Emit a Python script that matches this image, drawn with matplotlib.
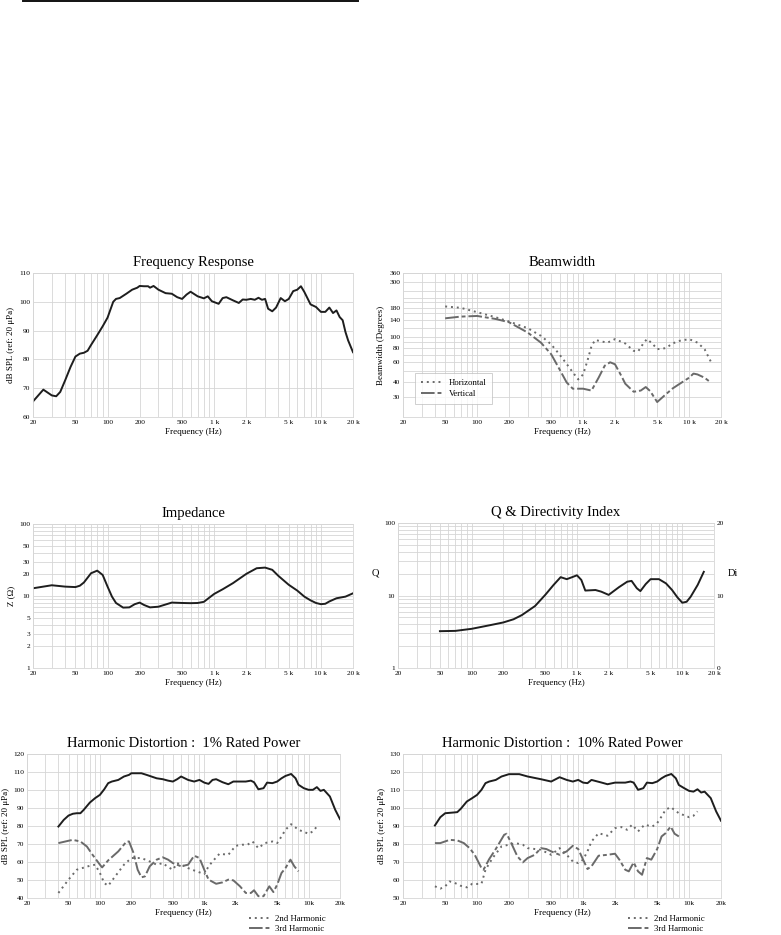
import numpy as np
import matplotlib
matplotlib.use("Agg")
import matplotlib.pyplot as plt
from matplotlib.lines import Line2D

plt.rcParams['font.family'] = ['Liberation Serif', 'DejaVu Serif']

W, H = 781, 935

# ---- data ----
fr_f = [20, 25, 30, 33, 36, 40, 45, 50, 55, 60, 65, 70, 80, 90, 100, 113, 120, 130, 150, 170, 190, 200,
        220, 240, 250, 270, 300, 350, 400, 450, 500, 550, 600, 700, 800, 870, 950, 1100, 1200, 1300,
        1500, 1700, 1850, 2000, 2200, 2400, 2600, 2800, 3000, 3200, 3500, 3800, 4200, 4600, 5000,
        5500, 6000, 6500, 7000, 8000, 9000, 10000, 11000, 12000, 13000, 14000, 15000, 16000, 17000,
        18000, 20000]
fr_db = [65.4, 69.5, 67.5, 67.2, 68.7, 72.7, 77.4, 81, 82, 82.3, 83, 85, 88.4, 91.5, 94.5, 100, 101,
         101.3, 102.8, 104.2, 104.9, 105.5, 105.4, 105.4, 104.9, 105.5, 104.2, 103, 102.8, 101.6,
         101, 102.5, 103.5, 101.9, 101.2, 101.9, 100.2, 99.3, 101.3, 101.6, 100.5, 99.6, 100.8,
         100.7, 101, 100.7, 101.4, 100.7, 101, 97.6, 96.7, 98, 101.3, 100.2, 101, 103.7, 104.2,
         105.4, 103.4, 99.1, 98.2, 96.5, 96.5, 98, 96.1, 97, 94.7, 93.6, 89.5, 86.6, 82.5]

bw_f = [50, 70, 100, 150, 200, 300, 400, 500, 600, 700, 800, 900, 1000, 1100, 1200, 1300, 1500, 1700,
        2000, 2500, 3000, 3300, 3700, 4000, 4500, 5000, 6000, 7000, 8000, 10000, 12000, 14000, 16000]
bw_h = [184, 179, 164, 148, 136, 119, 102, 86, 70, 58, 49, 42.5, 47, 62, 83, 94, 91, 89, 95.5, 87.5,
        75.5, 74.5, 87.5, 95.5, 87.5, 78, 79.6, 87.5, 92, 95.5, 89, 78, 61]
bwv_f = [50, 70, 100, 150, 200, 300, 400, 500, 600, 700, 800, 1000, 1200, 1400, 1600, 1800, 2000,
         2300, 2500, 3000, 3500, 3900, 4300, 5000, 6000, 7000, 8000, 10000, 11000, 12000, 14000, 16000]
bw_v = [145, 150, 152, 143, 134, 109, 89, 70.5, 52, 40, 35.3, 35.3, 34, 44, 56, 60, 57.6, 45.5, 39,
        33.2, 34, 36.5, 33.6, 27, 31.4, 35.5, 38.5, 44, 47.8, 47, 44, 40]

z_f = [20, 30, 40, 50, 55, 60, 70, 80, 90, 100, 110, 120, 140, 160, 180, 200, 220, 250, 300, 400,
       500, 600, 700, 800, 900, 1000, 1200, 1500, 2000, 2500, 3000, 3500, 4000, 5000, 6000, 7000,
       8000, 9000, 10000, 11000, 12000, 14000, 17000, 20000]
z_ohm = [12.8, 14.1, 13.5, 13.3, 13.9, 15.4, 20.7, 22.5, 19.6, 13.5, 9.8, 8, 6.9, 6.95, 7.7, 8.1,
         7.5, 6.95, 7.1, 8.1, 8.0, 7.95, 8.0, 8.3, 9.5, 10.7, 12.4, 15.1, 20.3, 24.3, 24.8, 23.1, 19,
         14.3, 11.9, 9.8, 8.7, 8, 7.7, 7.8, 8.4, 9.3, 9.8, 10.9]

q_f = [50, 70, 100, 150, 200, 250, 300, 400, 500, 600, 700, 800, 900, 1000, 1100, 1200, 1500, 1700,
       2000, 2500, 3000, 3300, 3700, 4000, 4500, 5000, 6000, 7000, 8000, 9000, 10000, 11000, 12000,
       14000, 16000]
q_val = [3.22, 3.25, 3.47, 3.9, 4.25, 4.7, 5.37, 7.16, 10.2, 14, 17.9, 16.8, 17.9, 19, 16.4, 11.7,
         11.9, 11.3, 10.2, 13, 15.5, 15.9, 12.6, 11.5, 14.4, 16.8, 16.8, 14.7, 11.9, 9.4, 7.95, 8.2,
         9.6, 14, 21.2]

hd1_f = [40, 45, 50, 55, 60, 65, 70, 80, 90, 100, 110, 120, 130, 150, 170, 190, 200, 250, 280, 350,
         400, 450, 500, 550, 600, 700, 800, 900, 1000, 1100, 1200, 1300, 1500, 1700, 1900, 2200, 2500,
         2800, 3000, 3300, 3700, 4000, 4500, 5000, 5500, 6000, 6800, 7500, 8000, 9000, 10000, 11000,
         12000, 13000, 14000, 16000, 18000, 20000]
hd1_fund = [79.7, 83.4, 85.8, 86.8, 87.1, 87.1, 89, 93, 95.5, 97.3, 100.4, 103.8, 104.7, 105.6, 107.5,
            108.4, 109.3, 109.3, 108.4, 106.5, 106, 105.2, 104.7, 106, 107.5, 105.6, 104.7, 105.6,
            104.1, 103.4, 105.6, 106, 104.3, 103.2, 104.7, 104.7, 104.7, 105.2, 104.3, 100.4, 101,
            104.1, 103.8, 104.7, 106.5, 107.8, 108.9, 106.5, 102.9, 101, 100.1, 100.1, 101.6, 99.5,
            100.1, 96.4, 89, 83.8]
hd1_2f = [40, 50, 60, 80, 90, 100, 110, 120, 140, 170, 200, 250, 300, 350, 400, 450, 500, 550, 600,
          700, 800, 1000, 1100, 1200, 1400, 1700, 2000, 2300, 2600, 2900, 3300, 3800, 4500, 5000,
          5500, 6000, 6800, 8000, 10000, 11000, 12000]
hd1_2nd = [42.8, 50.2, 55.7, 57.9, 58.5, 53.9, 48.3, 46.8, 52, 58.5, 62.2, 62.2, 60.3, 58.5, 59.4,
           57.2, 55.7, 59.4, 58.5, 56.6, 55.3, 53.3, 57.6, 60.3, 64.6, 64, 69, 69.6, 69.6, 71.4, 67.7,
           70.5, 71.4, 70.5, 74.2, 77.9, 81, 77.9, 75.7, 77, 79.7]
hd1_3f = [40, 50, 55, 65, 75, 85, 100, 105, 120, 150, 180, 190, 210, 230, 250, 270, 300, 350, 400,
          450, 500, 600, 700, 800, 900, 1000, 1100, 1300, 1500, 1700, 1900, 2200, 2500, 2800, 3000,
          3300, 3700, 4200, 4600, 5000, 5500, 6000, 6700, 7300, 8000]
hd1_3rd = [70.5, 71.8, 72.3, 71.4, 68.6, 64, 58.5, 57, 60.9, 65.9, 71.4, 71.4, 65, 55.7, 51.5, 52,
           57.6, 61.3, 62.6, 61.3, 59.4, 57.6, 58.5, 63.5, 62.2, 55.7, 50.2, 47.9, 48.7, 50.2, 49.8,
           46.5, 42.8, 42.8, 44.3, 41, 41, 46.5, 43.3, 47.4, 53.9, 56.6, 61.3, 57.6, 54.8]

hd10_f = [40, 45, 50, 60, 65, 70, 80, 90, 100, 110, 120, 130, 150, 170, 200, 250, 300, 400, 500, 600,
          700, 800, 900, 1000, 1100, 1200, 1500, 1700, 2000, 2500, 2800, 3000, 3300, 3700, 4000, 4500,
          5000, 5500, 6000, 6800, 7500, 8000, 9000, 10000, 11000, 12000, 13000, 14000, 16000, 18000,
          20000]
hd10_fund = [90.3, 94.9, 97.1, 97.5, 97.7, 99.5, 103.6, 105.5, 107.3, 110.1, 113.8, 114.7, 115.6,
             117.5, 118.8, 118.8, 117.5, 116, 114.7, 117.1, 115.6, 114.7, 115.6, 114.1, 113.8, 115.6,
             114.1, 113.2, 114.1, 114.1, 114.7, 114.1, 110.1, 111, 114.1, 113.8, 114.7, 116.5, 117.8,
             118.9, 116.5, 112.8, 111, 109.5, 109.1, 110.4, 108.6, 109.1, 105.5, 98.1, 92.9]
hd10_2f = [40, 45, 50, 55, 60, 70, 80, 90, 100, 110, 120, 140, 170, 200, 230, 270, 300, 400, 450, 500,
           600, 700, 800, 900, 1000, 1100, 1200, 1400, 1700, 2000, 2300, 2600, 2900, 3300, 3800, 4500,
           5000, 5500, 6000, 6700, 8000, 10000, 11000, 12000]
hd10_2nd = [56.5, 55.2, 56.5, 59.2, 58.7, 56.8, 55.9, 57.9, 57.8, 57.9, 65.7, 72.2, 78.7, 79.6, 80.5,
            79.6, 77.7, 76.8, 75.3, 74, 77.7, 74, 70.3, 69.4, 71.3, 75.9, 81.4, 86, 84.6, 88.8, 89.4,
            87.9, 90.7, 87, 90.7, 89.7, 91.6, 95.3, 99, 100.5, 97.1, 94.9, 95.7, 98.1]
hd10_3f = [40, 45, 55, 65, 75, 85, 95, 110, 115, 130, 150, 180, 190, 210, 240, 270, 300, 350, 400,
           450, 500, 600, 700, 800, 900, 1000, 1100, 1200, 1400, 1700, 2000, 2200, 2500, 2700, 3000,
           3300, 3600, 4000, 4400, 5000, 5500, 6000, 6700, 7300, 8000]
hd10_3rd = [80.5, 80.5, 82.3, 82, 80.5, 77.7, 74, 66.6, 65.7, 71.6, 77.2, 85.1, 85.7, 80.5, 73.1,
            69.8, 72.2, 74, 77.7, 77.2, 75.9, 74, 75.9, 79, 77.2, 71.3, 66.1, 67.6, 73.5, 74, 74.6,
            71.3, 65.7, 64.8, 69.8, 64.8, 62.9, 72.2, 71.3, 77.2, 84.2, 86, 89.7, 85.7, 84.2]

freq_ticks = [20, 50, 100, 200, 500, 1000, 2000, 5000, 10000, 20000]
freq_labels_sp = ['20', '50', '100', '200', '500', '1 k', '2 k', '5 k', '10 k', '20 k']
freq_labels_hd = ['20', '50', '100', '200', '500', '1k', '2k', '5k', '10k', '20k']

# ---- styling ----
LINE = '#1e1e1e'
SEC = '#6a6a6a'
GRID = '#d6d6d6'
TICK_FS = 5.3
LAB_FS = 6.5
TITLE_FS = 10.5
DOT = (0, (1, 2))
DASHDOT = (0, (7, 1.5, 2, 1.5))
LW = 1.4

fig = plt.figure(figsize=(W / 100, H / 100), dpi=100)


def px_axes(l, t, r, b):
    return fig.add_axes([l / W, 1 - b / H, (r - l) / W, (b - t) / H])


def log_minor(lo, hi):
    out = []
    d = 1
    while d < hi * 10:
        for m in range(1, 10):
            v = m * d
            if lo <= v <= hi:
                out.append(v)
        d *= 10
    return out


def style_freq(ax, labels):
    ax.set_xscale('log')
    ax.set_xlim(20, 20000)
    ax.set_xticks(freq_ticks)
    ax.set_xticklabels(labels)
    ax.set_xticks(log_minor(20, 20000), minor=True)
    ax.xaxis.set_minor_formatter(plt.NullFormatter())
    ax.tick_params(which='both', length=0, labelsize=TICK_FS, pad=2)
    ax.grid(True, which='both', axis='x', color=GRID, lw=0.6)
    for s in ax.spines.values():
        s.set_color(GRID)
        s.set_linewidth(0.6)
    ax.set_axisbelow(True)
    ax.set_xlabel('Frequency (Hz)', fontsize=LAB_FS, labelpad=2)


# Top rule
fig.add_artist(Line2D([23 / W, 358 / W], [1 - 1.2 / H, 1 - 1.2 / H], color='#111111', lw=1.4))

# 1. Frequency response
ax1 = px_axes(33, 273, 353, 417)
style_freq(ax1, freq_labels_sp)
ax1.plot(fr_f, fr_db, color=LINE, lw=LW)
ax1.set_ylim(60, 110)
ax1.set_yticks([60, 70, 80, 90, 100, 110])
ax1.grid(True, axis='y', color=GRID, lw=0.6)
ax1.set_ylabel('dB SPL (ref: 20 μPa)', fontsize=LAB_FS, labelpad=3)
ax1.set_title('Frequency Response', fontsize=TITLE_FS, pad=5)

# 2. Beamwidth
ax2 = px_axes(403, 273, 721, 417)
style_freq(ax2, freq_labels_sp)
ax2.plot(bw_f, bw_h, color=SEC, lw=LW, ls=DOT, label='Horizontal')
ax2.plot(bwv_f, bw_v, color=SEC, lw=LW, ls=DASHDOT, label='Vertical')
ax2.set_yscale('log')
ax2.set_ylim(20, 360)
ax2.set_yticks([30, 40, 60, 80, 100, 140, 180, 300, 360])
ax2.set_yticklabels(['30', '40', '60', '80', '100', '140', '180', '300', '360'])
ax2.set_yticks([20, 50, 70, 90, 120, 160, 200, 220, 250], minor=True)
ax2.yaxis.set_minor_formatter(plt.NullFormatter())
ax2.tick_params(which='both', length=0)
ax2.grid(True, which='both', axis='y', color=GRID, lw=0.6)
ax2.set_ylabel('Beamwidth (Degrees)', fontsize=LAB_FS, labelpad=3)
ax2.set_title('Beamwidth', fontsize=TITLE_FS, pad=5)
leg = ax2.legend(loc='lower left', bbox_to_anchor=(0.025, 0.06), fontsize=6.3, frameon=True,
                 fancybox=False, edgecolor='#bbbbbb', handlelength=2.4, borderpad=0.7,
                 labelspacing=0.3, handletextpad=0.7)
leg.get_frame().set_linewidth(0.6)

# 3. Impedance
ax3 = px_axes(33, 524, 353, 668)
style_freq(ax3, freq_labels_sp)
ax3.plot(z_f, z_ohm, color=LINE, lw=LW)
ax3.set_yscale('log')
ax3.set_ylim(1, 100)
ax3.set_yticks([1, 2, 3, 5, 10, 20, 30, 50, 100])
ax3.set_yticklabels(['1', '2', '3', '5', '10', '20', '30', '50', '100'])
ax3.set_yticks(log_minor(1, 100), minor=True)
ax3.yaxis.set_minor_formatter(plt.NullFormatter())
ax3.tick_params(which='both', length=0)
ax3.grid(True, which='both', axis='y', color=GRID, lw=0.6)
ax3.set_ylabel('Z (Ω)', fontsize=LAB_FS, labelpad=3)
ax3.set_title('Impedance', fontsize=TITLE_FS, pad=5)

# 4. Q & Directivity index
ax4 = px_axes(398, 523, 714, 668)
style_freq(ax4, freq_labels_sp)
ax4.plot(q_f, q_val, color=LINE, lw=LW)
ax4.set_yscale('log')
ax4.set_ylim(1, 100)
ax4.set_yticks([1, 10, 100])
ax4.set_yticklabels(['1', '10', '100'])
ax4.set_yticks(log_minor(1, 100), minor=True)
ax4.yaxis.set_minor_formatter(plt.NullFormatter())
ax4.tick_params(which='both', length=0)
ax4.grid(True, which='both', axis='y', color=GRID, lw=0.6)
ax4.set_title('Q & Directivity Index', fontsize=TITLE_FS, pad=5)
ax4b = ax4.twinx()
ax4b.set_ylim(0, 20)
ax4b.set_yticks([0, 10, 20])
ax4b.tick_params(length=0, labelsize=TICK_FS, pad=2)
for s in ax4b.spines.values():
    s.set_visible(False)
fig.text(375 / W, 1 - 573 / H, 'Q', fontsize=7.5, ha='center', va='center')
fig.text(733 / W, 1 - 573 / H, 'Di', fontsize=7.5, ha='center', va='center')


# 5/6. Harmonic distortion
def hd_panel(l, r, ymin, title, f, fund, f2, h2, f3, h3, leg_x):
    ax = px_axes(l, 754, r, 898)
    style_freq(ax, freq_labels_hd)
    ax.plot(f, fund, color=LINE, lw=LW)
    ax.plot(f2, h2, color=SEC, lw=LW, ls=DOT)
    ax.plot(f3, h3, color=SEC, lw=LW, ls=DASHDOT)
    ax.set_ylim(ymin, ymin + 80)
    ax.set_yticks(np.arange(ymin, ymin + 81, 10))
    ax.grid(True, axis='y', color=GRID, lw=0.6)
    ax.set_ylabel('dB SPL (ref: 20 μPa)', fontsize=LAB_FS, labelpad=2)
    ax.set_title(title, fontsize=TITLE_FS, pad=5)
    handles = [Line2D([], [], color=SEC, lw=LW, ls=DOT),
               Line2D([], [], color=SEC, lw=LW, ls=DASHDOT)]
    fig.legend(handles, ['2nd Harmonic', '3rd Harmonic'], loc='upper left',
               bbox_to_anchor=(leg_x / W, 1 - 909 / H), fontsize=6.3, frameon=False,
               handlelength=2.4, labelspacing=0.15, borderpad=0.2, handletextpad=0.6)
    return ax


hd_panel(27, 340, 40, 'Harmonic Distortion :  1% Rated Power', hd1_f, hd1_fund,
         hd1_2f, hd1_2nd, hd1_3f, hd1_3rd, 243)
hd_panel(403, 721, 50, 'Harmonic Distortion :  10% Rated Power', hd10_f, hd10_fund,
         hd10_2f, hd10_2nd, hd10_3f, hd10_3rd, 622)

fig.savefig('out.png', dpi=100)
